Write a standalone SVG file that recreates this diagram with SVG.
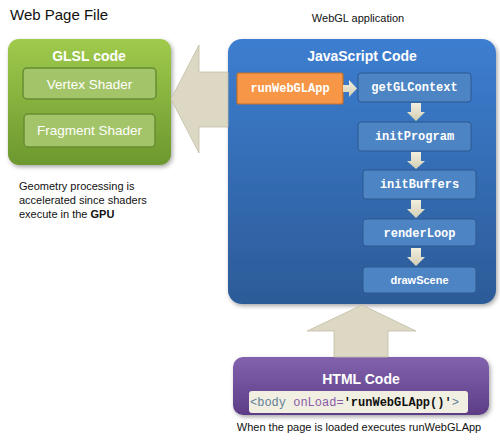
<svg xmlns="http://www.w3.org/2000/svg" width="500" height="443" viewBox="0 0 500 443">
<defs>
<linearGradient id="gGreen" x1="0" y1="0" x2="0" y2="1"><stop offset="0" stop-color="#9fca4c"/><stop offset="1" stop-color="#6c982f"/></linearGradient>
<linearGradient id="gBlue" x1="0" y1="0" x2="0" y2="1"><stop offset="0" stop-color="#3d7ed0"/><stop offset="1" stop-color="#2c5b98"/></linearGradient>
<linearGradient id="gPurple" x1="0" y1="0" x2="0" y2="1"><stop offset="0" stop-color="#8262ad"/><stop offset="1" stop-color="#5c3d86"/></linearGradient>
<linearGradient id="gSmall" x1="0" y1="0" x2="0" y2="1"><stop offset="0" stop-color="#f2efdf"/><stop offset="1" stop-color="#d3ceb4"/></linearGradient>
<filter id="sh" x="-10%" y="-10%" width="125%" height="125%"><feDropShadow dx="1.5" dy="2" stdDeviation="2" flood-color="#000" flood-opacity="0.35"/></filter>
</defs>
<style>
.t{font-family:"Liberation Sans",Arial,sans-serif;fill:#111}
.title{font-family:"Liberation Sans",Arial,sans-serif;font-weight:bold;fill:#fff;font-size:14px;text-anchor:middle}
.code{font-family:"Liberation Mono","Courier New",monospace;font-weight:bold;fill:#fff;font-size:12px;text-anchor:middle}
.inner{fill:#4d84c4;stroke:#2d5890;stroke-width:1}
.shader{fill:#a3c468;stroke:#678d33;stroke-width:1.5}
.big{fill:#ddd8c3;stroke:#c3bea6;stroke-width:0.8}
.small{fill:url(#gSmall)}
</style>
<text class="t" x="10" y="20" font-size="15">Web Page File</text>
<text class="t" x="358" y="22" font-size="11" text-anchor="middle">WebGL application</text>
<g id="glsl">
<rect x="8" y="39" width="163" height="126" rx="11" fill="url(#gGreen)" filter="url(#sh)"/>
<text class="title" x="89" y="61">GLSL code</text>
<g id="vertex"><rect class="shader" x="23" y="68" width="133" height="31" rx="4"/><text class="t" x="89.5" y="89" font-size="13.5" style="fill:#fff" text-anchor="middle">Vertex Shader</text></g>
<g id="fragment"><rect class="shader" x="24" y="114" width="131" height="33" rx="4"/><text class="t" x="89.5" y="135" font-size="13.5" style="fill:#fff" text-anchor="middle">Fragment Shader</text></g>
</g>
<g id="js">
<rect x="228" y="39" width="268" height="265" rx="14" fill="url(#gBlue)" filter="url(#sh)"/>
<text class="title" x="362" y="61">JavaScript Code</text>
<g id="runWebGLApp"><rect x="237" y="73" width="106" height="31" rx="2" fill="#f79646" stroke="#c2702c" stroke-width="1.2"/><text class="code" x="290" y="92">runWebGLApp</text></g>
<g id="getGLContext"><rect class="inner" x="358" y="73" width="113" height="29" rx="3"/><text class="code" x="414.5" y="91">getGLContext</text></g>
<g id="initProgram"><rect class="inner" x="358" y="122" width="113" height="29" rx="3"/><text class="code" x="414.5" y="140">initProgram</text></g>
<g id="initBuffers"><rect class="inner" x="363" y="170" width="113" height="29" rx="3"/><text class="code" x="419.5" y="188">initBuffers</text></g>
<g id="renderLoop"><rect class="inner" x="363" y="219" width="113" height="27" rx="3"/><text class="code" x="419.5" y="237">renderLoop</text></g>
<g id="drawScene"><rect class="inner" x="363" y="267" width="113" height="26" rx="3"/><text x="419.5" y="284" font-family="Liberation Sans,Arial,sans-serif" font-weight="bold" font-size="11" fill="#fff" text-anchor="middle">drawScene</text></g>
</g>
<g id="html">
<rect x="233" y="357" width="256" height="58" rx="10" fill="url(#gPurple)" filter="url(#sh)"/>
<text class="title" x="361" y="384">HTML Code</text>
<rect x="249" y="391" width="219" height="22" rx="3" fill="#f1efe2"/>
<text x="250" y="406" font-family="Liberation Mono,Courier New,monospace" font-size="12"><tspan fill="#5f7f97">&lt;body</tspan><tspan fill="#8a5aa6"> onLoad=</tspan><tspan fill="#111" font-weight="bold">'runWebGLApp()'</tspan><tspan fill="#5f7f97">&gt;</tspan></text>
</g>
<g id="connectors">
<polygon class="big" points="171,99 199,45 199,72 228,72 228,127 199,127 199,153"/>
<polygon class="big" points="362,305 416,331 388,331 388,357 334,357 334,331 307,331"/>
<polygon class="small" points="343,85 349,85 349,80 357,88.5 349,97 349,92 343,92"/>
<polygon class="small" points="411,103 421,103 421,112 425,112 416,121 407,112 411,112"/>
<polygon class="small" points="411,152 421,152 421,161 425,161 416,169 407,161 411,161"/>
<polygon class="small" points="411,200 421,200 421,209 425,209 416,218 407,209 411,209"/>
<polygon class="small" points="411,248 421,248 421,257 425,257 416,266 407,257 411,257"/>
</g>
<text class="t" x="19" y="190" font-size="11">Geometry processing is</text>
<text class="t" x="19" y="204" font-size="11">accelerated since shaders</text>
<text class="t" x="19" y="218" font-size="11">execute in the <tspan font-weight="bold">GPU</tspan></text>
<text class="t" x="359" y="431" font-size="11" text-anchor="middle">When the page is loaded executes runWebGLApp</text>
</svg>
